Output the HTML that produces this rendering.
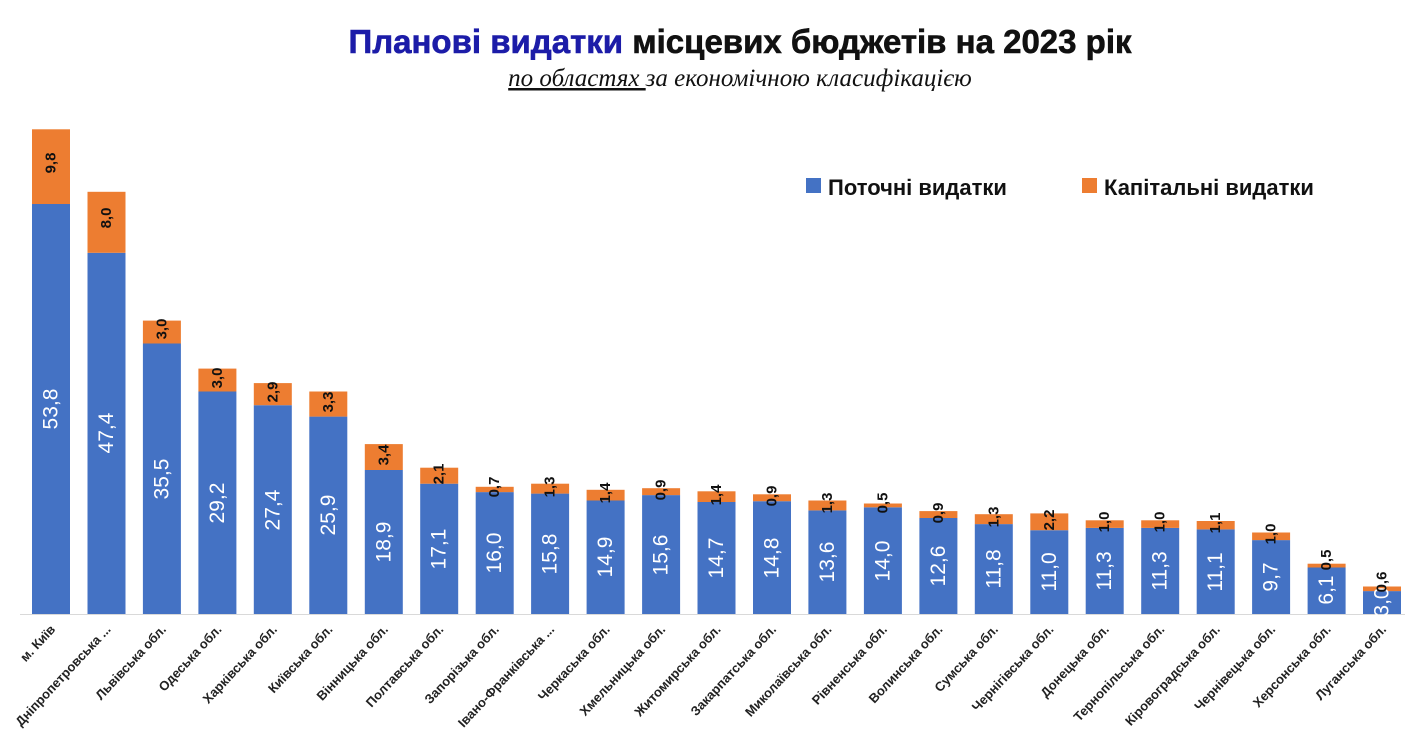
<!DOCTYPE html>
<html><head><meta charset="utf-8"><style>
html,body{margin:0;padding:0;background:#fff}
svg{display:block}
.t{font-family:"Liberation Sans","DejaVu Sans",sans-serif}
.bv{font-family:"Liberation Sans","DejaVu Sans",sans-serif;font-size:21px;fill:#fff;text-anchor:middle;dominant-baseline:central}
.ov{font-family:"Liberation Sans","DejaVu Sans",sans-serif;font-size:15px;font-weight:bold;fill:#111;text-anchor:middle;dominant-baseline:central}
.cl{font-family:"Liberation Sans","DejaVu Sans",sans-serif;font-size:13px;font-weight:bold;fill:#222;text-anchor:end}
</style></head><body>
<svg width="1410" height="748" viewBox="0 0 1410 748" xmlns="http://www.w3.org/2000/svg">
<text x="740" y="53" text-anchor="middle" class="t" font-size="33" font-weight="bold" stroke-width="0.6"><tspan fill="#1c1ca8" stroke="#1c1ca8">Планові видатки</tspan><tspan fill="#111" stroke="#111"> місцевих бюджетів на 2023 рік</tspan></text>
<text x="740" y="86" text-anchor="middle" font-family="Liberation Serif,serif" font-size="25" font-style="italic" fill="#111"><tspan text-decoration="underline">по областях </tspan>за економічною класифікацією</text>
<rect x="806" y="178" width="15" height="15" fill="#4472c4"/>
<text x="828" y="195" class="t" font-size="22" font-weight="bold" fill="#111">Поточні видатки</text>
<rect x="1082" y="178" width="15" height="15" fill="#ed7d31"/>
<text x="1104" y="195" class="t" font-size="22" font-weight="bold" fill="#111">Капітальні видатки</text>
<line x1="20" y1="614.5" x2="1405" y2="614.5" stroke="#d9d9d9"/>
<g id="bars">
<rect x="32" y="204" width="38" height="410" fill="#4472c4"/><rect x="32" y="129.3" width="38" height="74.7" fill="#ed7d31"/>
<rect x="87.5" y="252.8" width="38" height="361.2" fill="#4472c4"/><rect x="87.5" y="191.8" width="38" height="61" fill="#ed7d31"/>
<rect x="142.9" y="343.5" width="38" height="270.5" fill="#4472c4"/><rect x="142.9" y="320.6" width="38" height="22.9" fill="#ed7d31"/>
<rect x="198.4" y="391.5" width="38" height="222.5" fill="#4472c4"/><rect x="198.4" y="368.6" width="38" height="22.9" fill="#ed7d31"/>
<rect x="253.8" y="405.2" width="38" height="208.8" fill="#4472c4"/><rect x="253.8" y="383.1" width="38" height="22.1" fill="#ed7d31"/>
<rect x="309.3" y="416.6" width="38" height="197.4" fill="#4472c4"/><rect x="309.3" y="391.5" width="38" height="25.1" fill="#ed7d31"/>
<rect x="364.8" y="470" width="38" height="144" fill="#4472c4"/><rect x="364.8" y="444.1" width="38" height="25.9" fill="#ed7d31"/>
<rect x="420.2" y="483.7" width="38" height="130.3" fill="#4472c4"/><rect x="420.2" y="467.7" width="38" height="16" fill="#ed7d31"/>
<rect x="475.7" y="492.1" width="38" height="121.9" fill="#4472c4"/><rect x="475.7" y="486.8" width="38" height="5.3" fill="#ed7d31"/>
<rect x="531.1" y="493.6" width="38" height="120.4" fill="#4472c4"/><rect x="531.1" y="483.7" width="38" height="9.9" fill="#ed7d31"/>
<rect x="586.6" y="500.5" width="38" height="113.5" fill="#4472c4"/><rect x="586.6" y="489.8" width="38" height="10.7" fill="#ed7d31"/>
<rect x="642.1" y="495.1" width="38" height="118.9" fill="#4472c4"/><rect x="642.1" y="488.2" width="38" height="6.9" fill="#ed7d31"/>
<rect x="697.5" y="502" width="38" height="112" fill="#4472c4"/><rect x="697.5" y="491.3" width="38" height="10.7" fill="#ed7d31"/>
<rect x="753" y="501.2" width="38" height="112.8" fill="#4472c4"/><rect x="753" y="494.3" width="38" height="6.9" fill="#ed7d31"/>
<rect x="808.4" y="510.4" width="38" height="103.6" fill="#4472c4"/><rect x="808.4" y="500.5" width="38" height="9.9" fill="#ed7d31"/>
<rect x="863.9" y="507.3" width="38" height="106.7" fill="#4472c4"/><rect x="863.9" y="503.5" width="38" height="3.8" fill="#ed7d31"/>
<rect x="919.4" y="518" width="38" height="96" fill="#4472c4"/><rect x="919.4" y="511.1" width="38" height="6.9" fill="#ed7d31"/>
<rect x="974.8" y="524.1" width="38" height="89.9" fill="#4472c4"/><rect x="974.8" y="514.2" width="38" height="9.9" fill="#ed7d31"/>
<rect x="1030.3" y="530.2" width="38" height="83.8" fill="#4472c4"/><rect x="1030.3" y="513.4" width="38" height="16.8" fill="#ed7d31"/>
<rect x="1085.7" y="527.9" width="38" height="86.1" fill="#4472c4"/><rect x="1085.7" y="520.3" width="38" height="7.6" fill="#ed7d31"/>
<rect x="1141.2" y="527.9" width="38" height="86.1" fill="#4472c4"/><rect x="1141.2" y="520.3" width="38" height="7.6" fill="#ed7d31"/>
<rect x="1196.7" y="529.4" width="38" height="84.6" fill="#4472c4"/><rect x="1196.7" y="521" width="38" height="8.4" fill="#ed7d31"/>
<rect x="1252.1" y="540.1" width="38" height="73.9" fill="#4472c4"/><rect x="1252.1" y="532.5" width="38" height="7.6" fill="#ed7d31"/>
<rect x="1307.6" y="567.5" width="38" height="46.5" fill="#4472c4"/><rect x="1307.6" y="563.7" width="38" height="3.8" fill="#ed7d31"/>
<rect x="1363" y="591.1" width="38" height="22.9" fill="#4472c4"/><rect x="1363" y="586.5" width="38" height="4.6" fill="#ed7d31"/>
</g>
<text class="bv" transform="translate(51,409) rotate(-90)">53,8</text>
<text class="bv" transform="translate(106.5,433) rotate(-90)">47,4</text>
<text class="bv" transform="translate(161.9,479) rotate(-90)">35,5</text>
<text class="bv" transform="translate(217.4,503) rotate(-90)">29,2</text>
<text class="bv" transform="translate(272.8,510) rotate(-90)">27,4</text>
<text class="bv" transform="translate(328.3,515) rotate(-90)">25,9</text>
<text class="bv" transform="translate(383.8,542) rotate(-90)">18,9</text>
<text class="bv" transform="translate(439.2,549) rotate(-90)">17,1</text>
<text class="bv" transform="translate(494.7,553) rotate(-90)">16,0</text>
<text class="bv" transform="translate(550.1,554) rotate(-90)">15,8</text>
<text class="bv" transform="translate(605.6,557) rotate(-90)">14,9</text>
<text class="bv" transform="translate(661.1,555) rotate(-90)">15,6</text>
<text class="bv" transform="translate(716.5,558) rotate(-90)">14,7</text>
<text class="bv" transform="translate(772,558) rotate(-90)">14,8</text>
<text class="bv" transform="translate(827.4,562) rotate(-90)">13,6</text>
<text class="bv" transform="translate(882.9,561) rotate(-90)">14,0</text>
<text class="bv" transform="translate(938.4,566) rotate(-90)">12,6</text>
<text class="bv" transform="translate(993.8,569) rotate(-90)">11,8</text>
<text class="bv" transform="translate(1049.3,572) rotate(-90)">11,0</text>
<text class="bv" transform="translate(1104.7,571) rotate(-90)">11,3</text>
<text class="bv" transform="translate(1160.2,571) rotate(-90)">11,3</text>
<text class="bv" transform="translate(1215.7,572) rotate(-90)">11,1</text>
<text class="bv" transform="translate(1271.1,577) rotate(-90)">9,7</text>
<text class="bv" transform="translate(1326.6,590) rotate(-90)">6,1</text>
<text class="bv" transform="translate(1382,602) rotate(-90)">3,0</text>
<text class="ov" transform="translate(51,163) rotate(-90)">9,8</text>
<text class="ov" transform="translate(106.5,218) rotate(-90)">8,0</text>
<text class="ov" transform="translate(161.9,329) rotate(-90)">3,0</text>
<text class="ov" transform="translate(217.4,378) rotate(-90)">3,0</text>
<text class="ov" transform="translate(272.8,392) rotate(-90)">2,9</text>
<text class="ov" transform="translate(328.3,402) rotate(-90)">3,3</text>
<text class="ov" transform="translate(383.8,455) rotate(-90)">3,4</text>
<text class="ov" transform="translate(439.2,474) rotate(-90)">2,1</text>
<text class="ov" transform="translate(494.7,487) rotate(-90)">0,7</text>
<text class="ov" transform="translate(550.1,487) rotate(-90)">1,3</text>
<text class="ov" transform="translate(605.6,493) rotate(-90)">1,4</text>
<text class="ov" transform="translate(661.1,490) rotate(-90)">0,9</text>
<text class="ov" transform="translate(716.5,495) rotate(-90)">1,4</text>
<text class="ov" transform="translate(772,496) rotate(-90)">0,9</text>
<text class="ov" transform="translate(827.4,503) rotate(-90)">1,3</text>
<text class="ov" transform="translate(882.9,503) rotate(-90)">0,5</text>
<text class="ov" transform="translate(938.4,513) rotate(-90)">0,9</text>
<text class="ov" transform="translate(993.8,517) rotate(-90)">1,3</text>
<text class="ov" transform="translate(1049.3,520) rotate(-90)">2,2</text>
<text class="ov" transform="translate(1104.7,522) rotate(-90)">1,0</text>
<text class="ov" transform="translate(1160.2,522) rotate(-90)">1,0</text>
<text class="ov" transform="translate(1215.7,523) rotate(-90)">1,1</text>
<text class="ov" transform="translate(1271.1,534) rotate(-90)">1,0</text>
<text class="ov" transform="translate(1326.6,560) rotate(-90)">0,5</text>
<text class="ov" transform="translate(1382,582) rotate(-90)">0,6</text>
<g>
<text class="cl" transform="translate(56,630) rotate(-47)">м. Київ</text>
<text class="cl" transform="translate(111.5,630) rotate(-47)">Дніпропетровська ...</text>
<text class="cl" transform="translate(166.9,630) rotate(-47)">Львівська обл.</text>
<text class="cl" transform="translate(222.4,630) rotate(-47)">Одеська обл.</text>
<text class="cl" transform="translate(277.8,630) rotate(-47)">Харківська обл.</text>
<text class="cl" transform="translate(333.3,630) rotate(-47)">Київська обл.</text>
<text class="cl" transform="translate(388.8,630) rotate(-47)">Вінницька обл.</text>
<text class="cl" transform="translate(444.2,630) rotate(-47)">Полтавська обл.</text>
<text class="cl" transform="translate(499.7,630) rotate(-47)">Запорізька обл.</text>
<text class="cl" transform="translate(555.1,630) rotate(-47)">Івано-Франківська ...</text>
<text class="cl" transform="translate(610.6,630) rotate(-47)">Черкаська обл.</text>
<text class="cl" transform="translate(666.1,630) rotate(-47)">Хмельницька обл.</text>
<text class="cl" transform="translate(721.5,630) rotate(-47)">Житомирська обл.</text>
<text class="cl" transform="translate(777,630) rotate(-47)">Закарпатська обл.</text>
<text class="cl" transform="translate(832.4,630) rotate(-47)">Миколаївська обл.</text>
<text class="cl" transform="translate(887.9,630) rotate(-47)">Рівненська обл.</text>
<text class="cl" transform="translate(943.4,630) rotate(-47)">Волинська обл.</text>
<text class="cl" transform="translate(998.8,630) rotate(-47)">Сумська обл.</text>
<text class="cl" transform="translate(1054.3,630) rotate(-47)">Чернігівська обл.</text>
<text class="cl" transform="translate(1109.7,630) rotate(-47)">Донецька обл.</text>
<text class="cl" transform="translate(1165.2,630) rotate(-47)">Тернопільська обл.</text>
<text class="cl" transform="translate(1220.7,630) rotate(-47)">Кіровоградська обл.</text>
<text class="cl" transform="translate(1276.1,630) rotate(-47)">Чернівецька обл.</text>
<text class="cl" transform="translate(1331.6,630) rotate(-47)">Херсонська обл.</text>
<text class="cl" transform="translate(1387,630) rotate(-47)">Луганська обл.</text>
</g>
</svg>
</body></html>
